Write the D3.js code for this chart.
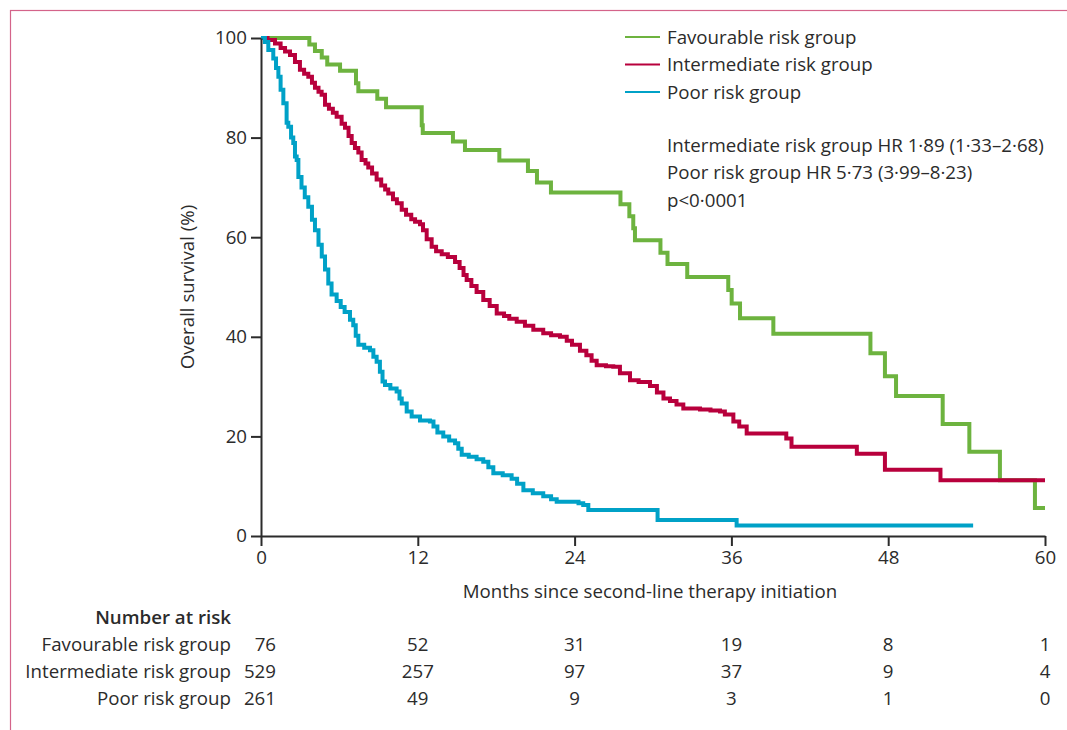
<!DOCTYPE html>
<html>
<head>
<meta charset="utf-8">
<script src="https://cdn.jsdelivr.net/npm/d3@7"></script>
<style>
  html, body { margin: 0; padding: 0; background: #fff; }
  svg { display: block; }
  text { font-family: "Open Sans", "Noto Sans", sans-serif; fill: #2b2b2b; }
</style>
</head>
<body>
<svg id="chart" width="1067" height="730"></svg>
<script>
// ---- data (months, survival %) ----
const groups = ["Favourable risk group", "Intermediate risk group", "Poor risk group"];
const colors = ["#6db33f", "#b8003c", "#00a1c7"];

const favourable = [
  [0,100],[3.70,98.7],[4.13,97.4],[4.65,96.1],[5.07,94.7],[6.05,93.4],[7.27,90.9],[7.45,89.3],
  [8.90,87.8],[9.57,86.1],[12.30,82.5],[12.38,80.9],[14.69,79.2],[15.61,77.5],[18.24,75.4],
  [20.43,73.3],[21.12,71.0],[22.19,69.0],[27.51,66.6],[28.19,64.2],[28.49,61.8],[28.62,59.4],
  [30.57,56.9],[31.11,54.6],[32.62,52.0],[35.76,49.4],[36.02,46.7],[36.66,43.7],[39.21,40.6],
  [46.64,36.7],[47.75,32.1],[48.60,28.1],[52.17,22.5],[54.21,16.9],[56.55,11.2],[59.23,5.6],[60,5.6]
];
const intermediate = [
  [0,100],[0.5,99.6],[1.07,98.9],[1.5,98.0],[1.84,97.3],[2.22,96.6],[2.6,95.2],[2.98,93.6],
  [3.3,92.8],[3.62,92.2],[3.9,91.0],[4.13,90.0],[4.4,89.2],[4.64,88.6],[4.9,86.6],[5.2,85.8],
  [5.5,85.0],[5.79,84.2],[6.17,82.8],[6.43,82.0],[6.7,80.3],[6.94,78.9],[7.19,77.9],[7.45,77.0],
  [7.7,75.5],[8.0,74.8],[8.21,74.0],[8.5,72.8],[8.85,71.6],[9.2,70.4],[9.5,69.6],[9.74,68.8],
  [10.1,67.6],[10.4,66.8],[10.77,65.5],[11.1,64.5],[11.5,63.6],[11.79,63.1],[12.17,62.6],
  [12.4,61.4],[12.68,59.6],[13.06,58.1],[13.4,57.2],[13.83,56.6],[14.3,56.0],[14.85,55.0],
  [15.2,53.8],[15.5,52.4],[15.74,51.4],[16.1,50.2],[16.5,49.0],[17.01,47.4],[17.5,46.2],
  [18.04,44.7],[18.6,44.2],[19.0,43.6],[19.57,43.0],[20.2,42.2],[20.84,41.4],[21.6,40.7],
  [22.2,40.3],[22.88,40.0],[23.4,39.2],[23.8,38.4],[24.41,37.2],[24.9,36.3],[25.3,35.2],
  [25.69,34.3],[26.4,34.1],[26.96,34.0],[27.47,32.7],[28.24,31.3],[28.9,30.9],[29.77,30.1],
  [30.3,28.8],[30.8,27.6],[31.3,27.1],[31.8,26.4],[32.32,25.6],[33.6,25.4],[34.4,25.2],
  [35.13,25.0],[35.5,24.4],[36.15,23.0],[36.6,22.0],[37.17,20.6],[40.2,19.6],[40.6,17.9],
  [45.6,16.5],[47.75,13.3],[52.0,11.2],[60,11.2]
];
const poor = [
  [0,100],[0.3,99.2],[0.56,97.6],[0.94,95.9],[1.15,94.0],[1.33,92.2],[1.5,89.6],[1.71,86.9],
  [1.96,83.0],[2.09,82.2],[2.3,80.0],[2.47,78.9],[2.6,76.2],[2.73,75.5],[2.86,72.1],[3.1,70.0],
  [3.35,68.0],[3.62,66.1],[3.9,63.5],[4.13,61.4],[4.4,58.5],[4.65,56.1],[4.9,53.5],[5.15,50.7],
  [5.4,48.5],[5.79,47.2],[6.1,46.0],[6.4,45.0],[6.81,43.4],[7.06,42.3],[7.25,40.2],[7.45,38.4],
  [7.9,37.8],[8.34,37.3],[8.6,36.0],[8.85,35.0],[9.1,33.0],[9.3,31.0],[9.49,30.3],[9.9,29.6],
  [10.38,29.0],[10.6,27.6],[10.77,26.6],[11.15,25.0],[11.53,24.0],[12.17,23.2],[12.93,23.0],
  [13.2,22.0],[13.5,20.8],[13.95,20.0],[14.4,19.2],[14.85,18.6],[15.1,17.5],[15.36,16.3],
  [15.9,15.9],[16.5,15.4],[17.01,14.9],[17.4,13.8],[17.78,12.6],[18.5,12.2],[19.18,11.5],
  [19.6,10.5],[20.08,9.2],[20.8,8.6],[21.6,8.0],[22.2,7.4],[22.63,6.9],[23.5,6.9],[24.3,6.6],
  [24.66,6.2],[25.05,5.2],[30.2,5.2],[30.35,3.2],[36.3,3.2],[36.4,2.1],[54.5,2.1]
];
const seriesData = [favourable, intermediate, poor];

const xTicks = [0, 12, 24, 36, 48, 60];
const yTicks = [0, 20, 40, 60, 80, 100];
const atRisk = [
  [76, 52, 31, 19, 8, 1],
  [529, 257, 97, 37, 9, 4],
  [261, 49, 9, 3, 1, 0]
];
const statsLines = [
  "Intermediate risk group HR 1·89 (1·33–2·68)",
  "Poor risk group HR 5·73 (3·99–8·23)",
  "p<0·0001"
];
const xTitle = "Months since second-line therapy initiation";
const yTitle = "Overall survival (%)";
const tableTitle = "Number at risk";

// ---- layout ----
const svg = d3.select("#chart");
const fs = 18.7;
const x = d3.scaleLinear().domain([0, 60]).range([261, 1045]);
const y = d3.scaleLinear().domain([0, 100]).range([536, 38]);

// frame
svg.append("rect").attr("x", 10.5).attr("y", 10.5).attr("width", 1100).attr("height", 800)
  .attr("fill", "none").attr("stroke", "#d4648a").attr("stroke-width", 1.2);

// curves
const line = d3.line().x(d => x(d[0])).y(d => y(d[1])).curve(d3.curveStepAfter);
seriesData.forEach((d, i) => {
  svg.append("path").datum(d).attr("d", line)
    .attr("fill", "none").attr("stroke", colors[i]).attr("stroke-width", 4)
    .attr("stroke-linejoin", "miter");
});

// axes
const xAxis = svg.append("g").attr("transform", "translate(0,536)")
  .call(d3.axisBottom(x).tickValues(xTicks).tickSize(10).tickPadding(5).tickSizeOuter(0));
const yAxis = svg.append("g").attr("transform", "translate(261,0)")
  .call(d3.axisLeft(y).tickValues(yTicks).tickSize(10).tickPadding(4).tickSizeOuter(0));
[xAxis, yAxis].forEach(g => {
  g.select(".domain").attr("stroke", "#2b2b2b").attr("stroke-width", 2);
  g.selectAll(".tick line").attr("stroke", "#2b2b2b").attr("stroke-width", 2);
  g.selectAll(".tick text").style("font-family", '"Open Sans", sans-serif')
    .style("font-size", fs + "px").attr("fill", "#2b2b2b");
});

// axis titles
svg.append("text").attr("x", 650).attr("y", 598).attr("text-anchor", "middle")
  .style("font-size", fs + "px").text(xTitle);
svg.append("text").attr("transform", "translate(194,287) rotate(-90)").attr("text-anchor", "middle")
  .style("font-size", fs + "px").text(yTitle);

// legend
groups.forEach((g, i) => {
  const yy = 37 + i * 27.5;
  svg.append("line").attr("x1", 625).attr("x2", 660).attr("y1", yy).attr("y2", yy)
    .attr("stroke", colors[i]).attr("stroke-width", 2);
  svg.append("text").attr("x", 667).attr("y", yy + 6.5).style("font-size", fs + "px").text(g);
});
statsLines.forEach((s, i) => {
  svg.append("text").attr("x", 667).attr("y", 151.5 + i * 27.5).style("font-size", fs + "px").text(s);
});

// risk table
svg.append("text").attr("x", 231).attr("y", 624).attr("text-anchor", "end")
  .style("font-size", fs + "px").style("font-weight", "600").text(tableTitle);
groups.forEach((g, i) => {
  const yy = 650.5 + i * 27.3;
  svg.append("text").attr("x", 231).attr("y", yy).attr("text-anchor", "end")
    .style("font-size", fs + "px").text(g);
  atRisk[i].forEach((v, j) => {
    svg.append("text")
      .attr("x", j === 0 ? 276 : x(xTicks[j]))
      .attr("y", yy)
      .attr("text-anchor", j === 0 ? "end" : "middle")
      .style("font-size", fs + "px").text(v);
  });
});
</script>
</body>
</html>
